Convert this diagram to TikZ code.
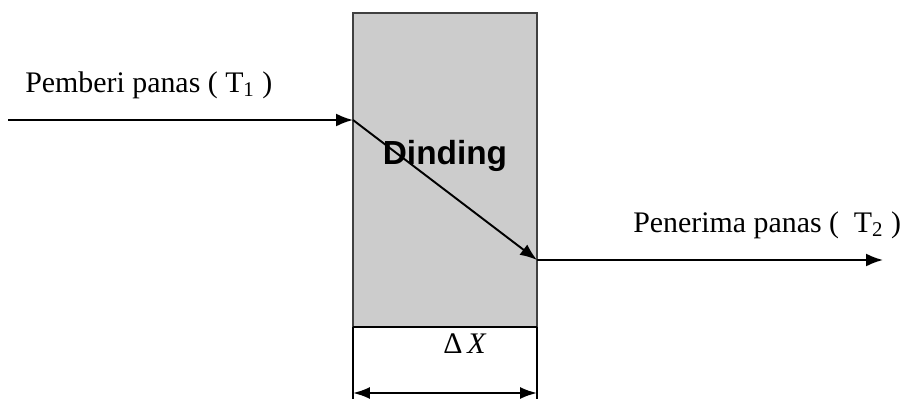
\documentclass[tikz,border=0pt]{standalone}
\usepackage{fontspec}
\setmainfont{Liberation Serif}
\newfontfamily\wallfont{Liberation Sans}
\usetikzlibrary{arrows.meta,positioning}
\tikzset{
  ar/.style={-{Latex[length=3.4mm,width=2.6mm]},line width=1.1pt},
  dimar/.style={{Latex[length=3.4mm,width=2.4mm]}-{Latex[length=3.4mm,width=2.4mm]},line width=1.1pt},
  lbl/.style={font=\fontsize{17}{20}\selectfont,inner sep=0pt},
  wall/.style={draw=black!75,line width=0.8pt,fill=gray!40}
}
\begin{document}
\begin{tikzpicture}[x=0.02cm,y=-0.02cm]
\useasboundingbox (0,0) rectangle (910,399);
% dinding
\draw[wall] (353,13) rectangle (537,327);
\draw[line width=1.1pt] (353,327) -- (537,327);
\draw[line width=1.1pt] (353,327) -- (353,399);
\draw[line width=1.1pt] (537,327) -- (537,399);
\coordinate (src) at (8,120);
\coordinate (wl) at (353,120);
\coordinate (wr) at (537,260);
\coordinate (sink) at (883,260);
\coordinate (dl) at (353,393);
\coordinate (dr) at (537,393);
% aliran panas
\draw[ar] (src) -- (wl);
\draw[ar] (wl) -- (wr);
\draw[ar] (wr) -- (sink);
\draw[dimar] (dl) -- (dr);
% teks
\node[lbl,anchor=base west] (hot) at (25,92) {Pemberi panas ( T\textsubscript{1} )};
\node[lbl,anchor=base west] (cold) at (633,232) {Penerima panas (\ \ T\textsubscript{2} )};
\node[font=\wallfont\bfseries\fontsize{19}{22}\selectfont,inner sep=0pt] (wallname) at (445,156) {Dinding};
\node[lbl] (dx) at (465,344) {Δ\,\textit{X}};
\end{tikzpicture}
\end{document}
